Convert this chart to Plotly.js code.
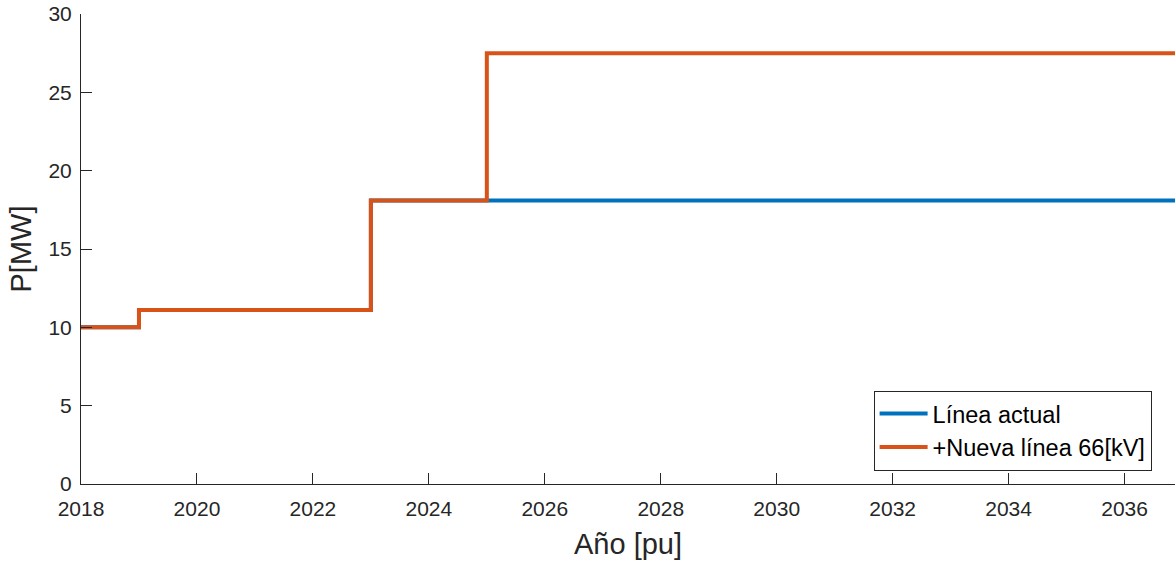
<!DOCTYPE html>
<html>
<head>
<meta charset="utf-8">
<script src="https://cdn.plot.ly/plotly-3.0.1.min.js"></script>
<style>html,body{margin:0;padding:0;background:#fff;}#chart{width:1175px;height:561px;}</style>
</head>
<body>
<div id="chart"></div>
<script>
// Data
const years = [2018, 2019, 2023, 2025, 2037];
const lineaActual = [10, 11.1, 18.1, 18.1, 18.1];
const nuevaLinea = [10, 11.1, 18.1, 27.5, 27.5];
const seriesNames = ['Línea actual', '+Nueva línea 66[kV]'];
const xTicks = [2018, 2020, 2022, 2024, 2026, 2028, 2030, 2032, 2034, 2036];
const yTicks = [0, 5, 10, 15, 20, 25, 30];

const font = 'Liberation Sans, Arial, Helvetica, sans-serif';
const axisColor = '#262626';

const traces = [
  {x: years, y: lineaActual, name: seriesNames[0], mode: 'lines',
   line: {shape: 'hv', color: '#0072BD', width: 4}},
  {x: years, y: nuevaLinea, name: seriesNames[1], mode: 'lines',
   line: {shape: 'hv', color: '#D95319', width: 4}}
];

const layout = {
  width: 1175, height: 561,
  margin: {l: 81, r: 0, t: 14, b: 77},
  paper_bgcolor: '#fff', plot_bgcolor: '#fff',
  font: {family: font, color: axisColor},
  showlegend: true,
  legend: {
    x: 0.7245, y: 0.1985, xanchor: 'left', yanchor: 'top',
    bgcolor: '#fff', bordercolor: axisColor, borderwidth: 1,
    font: {family: font, size: 23.5, color: '#000'},
    tracegroupgap: 0, itemwidth: 48
  },
  xaxis: {
    range: [2018, 2036.87], tickvals: xTicks, ticktext: xTicks.map(String),
    ticks: 'inside', ticklen: 11, tickwidth: 1, tickcolor: axisColor,
    showline: true, linecolor: axisColor, linewidth: 1, zeroline: false, showgrid: false,
    tickfont: {family: font, size: 21, color: axisColor},
    ticklabelstandoff: 6,
    title: {text: 'Año [pu]', font: {family: font, size: 29, color: axisColor}, standoff: 14},
    automargin: false
  },
  yaxis: {
    range: [0, 30], tickvals: yTicks, ticktext: yTicks.map(String),
    ticks: 'inside', ticklen: 11, tickwidth: 1, tickcolor: axisColor,
    showline: true, linecolor: axisColor, linewidth: 1, zeroline: false, showgrid: false,
    tickfont: {family: font, size: 21, color: axisColor},
    ticklabelstandoff: 4,
    title: {text: 'P[MW]', font: {family: font, size: 29, color: axisColor}, standoff: 8},
    automargin: false
  }
};

Plotly.newPlot('chart', traces, layout, {staticPlot: true, displayModeBar: false});
</script>
</body>
</html>
